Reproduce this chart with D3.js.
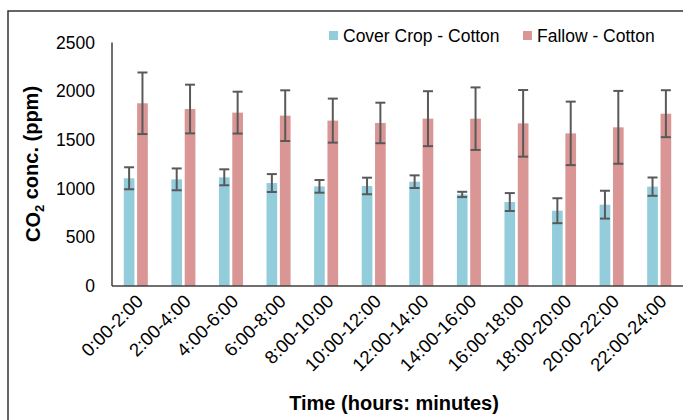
<!DOCTYPE html>
<html>
<head>
<meta charset="utf-8">
<script src="https://cdn.jsdelivr.net/npm/d3@7"></script>
<style>
  body { margin: 0; background: #fff; }
  svg { display: block; font-family: "Liberation Sans", Arial, sans-serif; }
</style>
</head>
<body>
<svg width="683" height="420"></svg>
<script>
var categories = ["0:00-2:00", "2:00-4:00", "4:00-6:00", "6:00-8:00", "8:00-10:00", "10:00-12:00",
  "12:00-14:00", "14:00-16:00", "16:00-18:00", "18:00-20:00", "20:00-22:00", "22:00-24:00"];
var seriesNames = ["Cover Crop - Cotton", "Fallow - Cotton"];
var coverMean = [1106, 1095, 1116, 1057, 1023, 1027, 1071, 940, 862, 773, 835, 1020];
var coverErr  = [113, 112, 82, 92, 65, 85, 65, 27, 92, 128, 143, 94];
var fallowMean = [1876, 1817, 1780, 1749, 1698, 1674, 1718, 1718, 1670, 1567, 1629, 1769];
var fallowErr  = [316, 250, 215, 260, 226, 208, 282, 321, 342, 326, 374, 241];
var yTicks = [0, 500, 1000, 1500, 2000, 2500];

var colors = ["#93cddc", "#da9694"];

var svg = d3.select("svg");

// outer frame (clipped on the right and bottom like the source)
svg.append("rect")
  .attr("x", 8).attr("y", 11)
  .attr("width", 720).attr("height", 440)
  .attr("fill", "none")
  .attr("stroke", "#333")
  .attr("stroke-width", 1.5);

var plotLeft = 112, plotRight = 683, plotTop = 42.5, plotBottom = 286;

var x0 = d3.scaleBand()
  .domain(categories)
  .range([plotLeft, plotRight])
  .paddingInner(0.495)
  .paddingOuter(0.2475);

var x1 = d3.scaleBand()
  .domain([0, 1])
  .range([0, x0.bandwidth()])
  .paddingInner(0.2);

var y = d3.scaleLinear().domain([0, 2500]).range([plotBottom, plotTop]);

var rows = categories.map(function(c, i) {
  return {cat: c, vals: [
    {s: 0, mean: coverMean[i], err: coverErr[i]},
    {s: 1, mean: fallowMean[i], err: fallowErr[i]}
  ]};
});

// y tick labels
svg.append("g")
  .selectAll("text")
  .data(yTicks)
  .enter().append("text")
    .attr("x", 95)
    .attr("y", function(d) { return y(d); })
    .attr("dy", "0.35em")
    .attr("text-anchor", "end")
    .attr("font-size", 17.5)
    .attr("fill", "#000")
    .text(function(d) { return d; });

// bars
var group = svg.append("g")
  .selectAll("g")
  .data(rows)
  .enter().append("g")
    .attr("transform", function(d) { return "translate(" + x0(d.cat) + ",0)"; });

group.selectAll("rect")
  .data(function(d) { return d.vals; })
  .enter().append("rect")
    .attr("x", function(d) { return x1(d.s); })
    .attr("y", function(d) { return y(d.mean); })
    .attr("width", x1.bandwidth())
    .attr("height", function(d) { return y(0) - y(d.mean); })
    .attr("fill", function(d) { return colors[d.s]; });

// error bars
var eb = group.selectAll("g.err")
  .data(function(d) { return d.vals; })
  .enter().append("g")
    .attr("class", "err")
    .attr("stroke", "#595959")
    .attr("stroke-width", 2);

eb.append("line")
  .attr("x1", function(d) { return x1(d.s) + x1.bandwidth() / 2; })
  .attr("x2", function(d) { return x1(d.s) + x1.bandwidth() / 2; })
  .attr("y1", function(d) { return y(d.mean + d.err); })
  .attr("y2", function(d) { return y(d.mean - d.err); });

[1, -1].forEach(function(sign) {
  eb.append("line")
    .attr("x1", function(d) { return x1(d.s) + x1.bandwidth() / 2 - 5; })
    .attr("x2", function(d) { return x1(d.s) + x1.bandwidth() / 2 + 5; })
    .attr("y1", function(d) { return y(d.mean + sign * d.err); })
    .attr("y2", function(d) { return y(d.mean + sign * d.err); });
});

// axis lines
svg.append("line")
  .attr("x1", plotLeft).attr("x2", plotLeft)
  .attr("y1", plotTop).attr("y2", plotBottom)
  .attr("stroke", "#404040").attr("stroke-width", 1.5);
svg.append("line")
  .attr("x1", plotLeft).attr("x2", plotRight)
  .attr("y1", plotBottom).attr("y2", plotBottom)
  .attr("stroke", "#404040").attr("stroke-width", 1.5);

// x tick labels, rotated
svg.append("g")
  .selectAll("text")
  .data(categories)
  .enter().append("text")
    .attr("transform", function(d) {
      return "translate(" + (x0(d) + x0.bandwidth() / 2 + 4) + "," + 298 + ") rotate(-45)";
    })
    .attr("dy", "0.35em")
    .attr("text-anchor", "end")
    .attr("font-size", 18.5)
    .text(function(d) { return d; });

// axis titles
svg.append("text")
  .attr("x", 394).attr("y", 403)
  .attr("dy", "0.35em")
  .attr("text-anchor", "middle")
  .attr("font-size", 20)
  .attr("font-weight", "bold")
  .text("Time (hours: minutes)");

var yt = svg.append("text")
  .attr("transform", "translate(33,164) rotate(-90)")
  .attr("dy", "0.35em")
  .attr("text-anchor", "middle")
  .attr("font-size", 20)
  .attr("font-weight", "bold");
yt.append("tspan").text("CO");
yt.append("tspan").attr("font-size", 13).attr("dy", "0.3em").text("2");
yt.append("tspan").attr("dy", "-0.3em").text(" conc. (ppm)");

// legend
var legend = svg.append("g")
  .selectAll("g")
  .data(seriesNames)
  .enter().append("g")
    .attr("transform", function(d, i) { return "translate(" + [329, 523][i] + ",31)"; });
legend.append("rect")
  .attr("width", 9).attr("height", 9)
  .attr("fill", function(d, i) { return colors[i]; });
legend.append("text")
  .attr("x", 14).attr("y", 4.5)
  .attr("dy", "0.35em")
  .attr("font-size", 17.5)
  .text(function(d) { return d; });
</script>
</body>
</html>
